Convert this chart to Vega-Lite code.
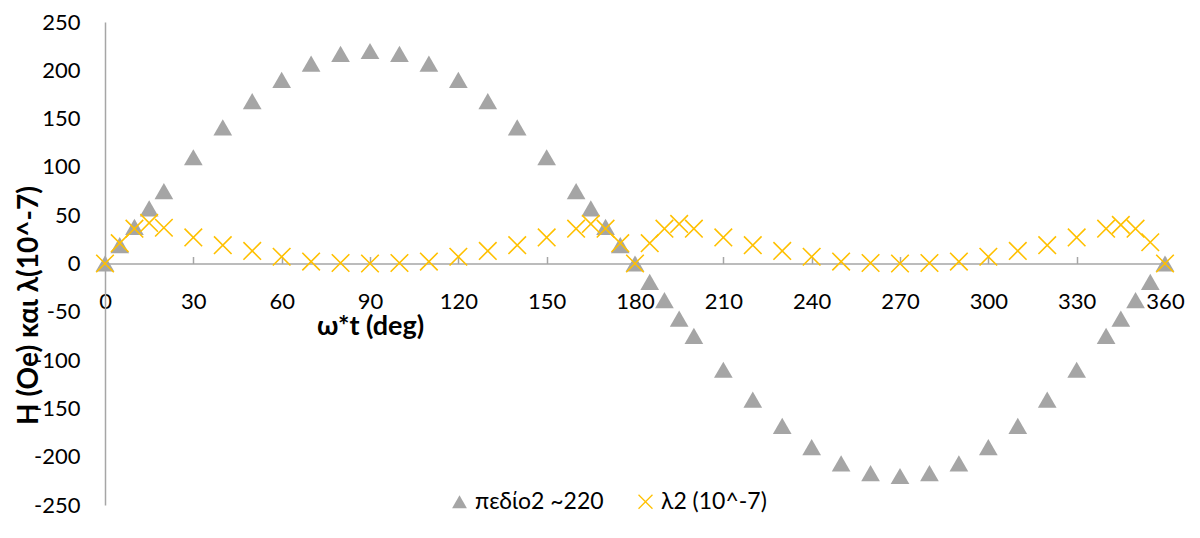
{
  "$schema": "https://vega.github.io/schema/vega-lite/v6.json",
  "width": 1060,
  "height": 483,
  "autosize": {"type": "none"},
  "padding": {"left": 105, "top": 22, "right": 35, "bottom": 33},
  "background": "white",
  "config": {
    "view": {"stroke": null},
    "font": "Lato",
    "legend": {
      "orient": "none",
      "direction": "horizontal",
      "legendX": 343,
      "legendY": 468,
      "labelFontSize": 23,
      "labelFont": "Lato",
      "labelColor": "#000000",
      "symbolSize": 220,
      "symbolStrokeWidth": 0,
      "columnPadding": 30,
      "labelOffset": 4
    }
  },
  "data": {
    "values": [
      {"deg": 0, "v": 0, "series": "πεδίο2 ~220"},
      {"deg": 5, "v": 19, "series": "πεδίο2 ~220"},
      {"deg": 10, "v": 38, "series": "πεδίο2 ~220"},
      {"deg": 15, "v": 57, "series": "πεδίο2 ~220"},
      {"deg": 20, "v": 75, "series": "πεδίο2 ~220"},
      {"deg": 30, "v": 110, "series": "πεδίο2 ~220"},
      {"deg": 40, "v": 141, "series": "πεδίο2 ~220"},
      {"deg": 50, "v": 168, "series": "πεδίο2 ~220"},
      {"deg": 60, "v": 190, "series": "πεδίο2 ~220"},
      {"deg": 70, "v": 207, "series": "πεδίο2 ~220"},
      {"deg": 80, "v": 217, "series": "πεδίο2 ~220"},
      {"deg": 90, "v": 220, "series": "πεδίο2 ~220"},
      {"deg": 100, "v": 217, "series": "πεδίο2 ~220"},
      {"deg": 110, "v": 207, "series": "πεδίο2 ~220"},
      {"deg": 120, "v": 190, "series": "πεδίο2 ~220"},
      {"deg": 130, "v": 168, "series": "πεδίο2 ~220"},
      {"deg": 140, "v": 141, "series": "πεδίο2 ~220"},
      {"deg": 150, "v": 110, "series": "πεδίο2 ~220"},
      {"deg": 160, "v": 75, "series": "πεδίο2 ~220"},
      {"deg": 165, "v": 57, "series": "πεδίο2 ~220"},
      {"deg": 170, "v": 38, "series": "πεδίο2 ~220"},
      {"deg": 175, "v": 19, "series": "πεδίο2 ~220"},
      {"deg": 180, "v": 0, "series": "πεδίο2 ~220"},
      {"deg": 185, "v": -19, "series": "πεδίο2 ~220"},
      {"deg": 190, "v": -38, "series": "πεδίο2 ~220"},
      {"deg": 195, "v": -57, "series": "πεδίο2 ~220"},
      {"deg": 200, "v": -75, "series": "πεδίο2 ~220"},
      {"deg": 210, "v": -110, "series": "πεδίο2 ~220"},
      {"deg": 220, "v": -141, "series": "πεδίο2 ~220"},
      {"deg": 230, "v": -168, "series": "πεδίο2 ~220"},
      {"deg": 240, "v": -190, "series": "πεδίο2 ~220"},
      {"deg": 250, "v": -207, "series": "πεδίο2 ~220"},
      {"deg": 260, "v": -217, "series": "πεδίο2 ~220"},
      {"deg": 270, "v": -220, "series": "πεδίο2 ~220"},
      {"deg": 280, "v": -217, "series": "πεδίο2 ~220"},
      {"deg": 290, "v": -207, "series": "πεδίο2 ~220"},
      {"deg": 300, "v": -190, "series": "πεδίο2 ~220"},
      {"deg": 310, "v": -168, "series": "πεδίο2 ~220"},
      {"deg": 320, "v": -141, "series": "πεδίο2 ~220"},
      {"deg": 330, "v": -110, "series": "πεδίο2 ~220"},
      {"deg": 340, "v": -75, "series": "πεδίο2 ~220"},
      {"deg": 345, "v": -57, "series": "πεδίο2 ~220"},
      {"deg": 350, "v": -38, "series": "πεδίο2 ~220"},
      {"deg": 355, "v": -19, "series": "πεδίο2 ~220"},
      {"deg": 360, "v": 0, "series": "πεδίο2 ~220"},
      {"deg": 0, "v": 0, "series": "λ2 (10^-7)"},
      {"deg": 5, "v": 21, "series": "λ2 (10^-7)"},
      {"deg": 10, "v": 36, "series": "λ2 (10^-7)"},
      {"deg": 15, "v": 42, "series": "λ2 (10^-7)"},
      {"deg": 20, "v": 37, "series": "λ2 (10^-7)"},
      {"deg": 30, "v": 27, "series": "λ2 (10^-7)"},
      {"deg": 40, "v": 19, "series": "λ2 (10^-7)"},
      {"deg": 50, "v": 13, "series": "λ2 (10^-7)"},
      {"deg": 60, "v": 7, "series": "λ2 (10^-7)"},
      {"deg": 70, "v": 2, "series": "λ2 (10^-7)"},
      {"deg": 80, "v": 0.5, "series": "λ2 (10^-7)"},
      {"deg": 90, "v": 0, "series": "λ2 (10^-7)"},
      {"deg": 100, "v": 0.5, "series": "λ2 (10^-7)"},
      {"deg": 110, "v": 2, "series": "λ2 (10^-7)"},
      {"deg": 120, "v": 7, "series": "λ2 (10^-7)"},
      {"deg": 130, "v": 13, "series": "λ2 (10^-7)"},
      {"deg": 140, "v": 19, "series": "λ2 (10^-7)"},
      {"deg": 150, "v": 27, "series": "λ2 (10^-7)"},
      {"deg": 160, "v": 36, "series": "λ2 (10^-7)"},
      {"deg": 165, "v": 41, "series": "λ2 (10^-7)"},
      {"deg": 170, "v": 36, "series": "λ2 (10^-7)"},
      {"deg": 175, "v": 21, "series": "λ2 (10^-7)"},
      {"deg": 180, "v": 0, "series": "λ2 (10^-7)"},
      {"deg": 185, "v": 21, "series": "λ2 (10^-7)"},
      {"deg": 190, "v": 36, "series": "λ2 (10^-7)"},
      {"deg": 195, "v": 41, "series": "λ2 (10^-7)"},
      {"deg": 200, "v": 36, "series": "λ2 (10^-7)"},
      {"deg": 210, "v": 27, "series": "λ2 (10^-7)"},
      {"deg": 220, "v": 19, "series": "λ2 (10^-7)"},
      {"deg": 230, "v": 13, "series": "λ2 (10^-7)"},
      {"deg": 240, "v": 7, "series": "λ2 (10^-7)"},
      {"deg": 250, "v": 2, "series": "λ2 (10^-7)"},
      {"deg": 260, "v": 0.5, "series": "λ2 (10^-7)"},
      {"deg": 270, "v": 0, "series": "λ2 (10^-7)"},
      {"deg": 280, "v": 0.5, "series": "λ2 (10^-7)"},
      {"deg": 290, "v": 2, "series": "λ2 (10^-7)"},
      {"deg": 300, "v": 7, "series": "λ2 (10^-7)"},
      {"deg": 310, "v": 13, "series": "λ2 (10^-7)"},
      {"deg": 320, "v": 19, "series": "λ2 (10^-7)"},
      {"deg": 330, "v": 27, "series": "λ2 (10^-7)"},
      {"deg": 340, "v": 36, "series": "λ2 (10^-7)"},
      {"deg": 345, "v": 40, "series": "λ2 (10^-7)"},
      {"deg": 350, "v": 36, "series": "λ2 (10^-7)"},
      {"deg": 355, "v": 22, "series": "λ2 (10^-7)"},
      {"deg": 360, "v": 0, "series": "λ2 (10^-7)"}
    ]
  },
  "mark": {"type": "point", "filled": true, "opacity": 1, "size": 350, "strokeWidth": 0},
  "encoding": {
    "x": {
      "field": "deg",
      "type": "quantitative",
      "scale": {"domain": [0, 360], "nice": false, "zero": false},
      "axis": {
        "values": [0, 30, 60, 90, 120, 150, 180, 210, 240, 270, 300, 330, 360],
        "grid": false,
        "offset": -241.5,
        "domainColor": "#A6A6A6",
        "domainWidth": 1.5,
        "tickColor": "#A6A6A6",
        "tickWidth": 1.5,
        "tickSize": -7,
        "labelFontSize": 22,
        "labelFont": "Lato",
        "labelColor": "#000000",
        "labelPadding": 35,
        "labelFlush": false,
        "labelOverlap": false,
        "title": "ω*t (deg)",
        "titleFont": "Lato",
        "titleFontSize": 27,
        "titleFontWeight": "bold",
        "titleColor": "#000000",
        "titleX": 265,
        "titleY": 63,
        "titleAlign": "center",
        "titleBaseline": "middle"
      }
    },
    "y": {
      "field": "v",
      "type": "quantitative",
      "scale": {"domain": [-250, 250], "nice": false, "zero": false},
      "axis": {
        "values": [-250, -200, -150, -100, -50, 0, 50, 100, 150, 200, 250],
        "labelExpr": "datum.value < 0 ? '-' + abs(datum.value) : '' + datum.value",
        "grid": false,
        "ticks": false,
        "domainColor": "#A6A6A6",
        "domainWidth": 1.5,
        "labelFontSize": 22,
        "labelFont": "Lato",
        "labelColor": "#000000",
        "labelPadding": 25,
        "labelOverlap": false,
        "title": "H (Oe) και λ(10^-7)",
        "titleFont": "Lato",
        "titleFontSize": 28,
        "titleFontWeight": "bold",
        "titleColor": "#000000",
        "titleAngle": -90,
        "titleX": -76,
        "titleY": 283,
        "titleAlign": "center",
        "titleBaseline": "middle"
      }
    },
    "color": {
      "field": "series",
      "type": "nominal",
      "scale": {"domain": ["πεδίο2 ~220", "λ2 (10^-7)"], "range": ["#A5A5A5", "#FFC000"]},
      "legend": {"title": null}
    },
    "shape": {
      "field": "series",
      "type": "nominal",
      "scale": {
        "domain": ["πεδίο2 ~220", "λ2 (10^-7)"],
        "range": ["triangle-up", "M-1,-0.88L-0.88,-1L1,0.88L0.88,1ZM-1,0.88L0.88,-1L1,-0.88L-0.88,1Z"]
      },
      "legend": {"title": null}
    }
  }
}
